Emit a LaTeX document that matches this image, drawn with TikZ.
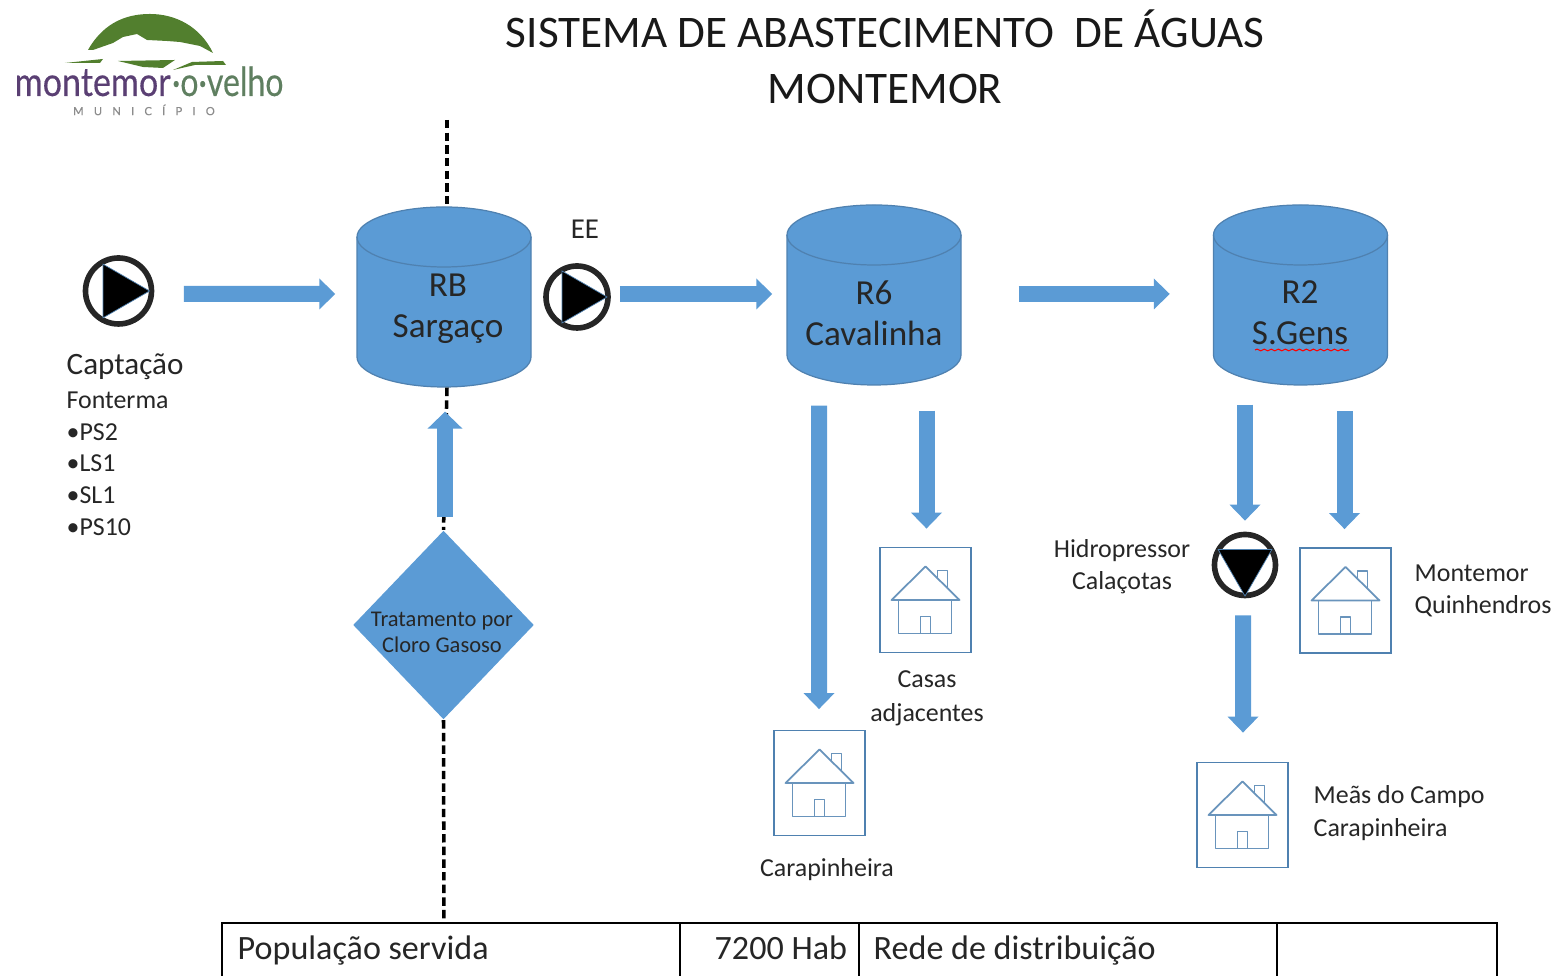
\documentclass[tikz,border=0pt]{standalone}
\usepackage{graphicx}
\usepackage{fontspec}
\setmainfont{Carlito}
\newfontfamily\logofont[FakeBold=0.4]{Lato}
\usepackage{tikz}
\usetikzlibrary{arrows.meta, shapes.geometric, decorations.pathmorphing}
\definecolor{flowblue}{HTML}{5B9BD5}
\definecolor{edgeblue}{HTML}{4F81B0}
\definecolor{logogreen}{HTML}{527F2E}
\definecolor{logopurple}{HTML}{5A3F73}
\definecolor{logogray}{HTML}{5F7F60}

\tikzset{
  tank/.style={rectangle, minimum width=1.74cm, minimum height=1.8cm, inner sep=0pt},
  tankline/.style={draw=edgeblue, line width=0.35pt},
  flow/.style={line width=0.16cm, draw=flowblue, -{Triangle[width=0.3cm, length=0.16cm]}},
  pipeline/.style={line width=1pt, dash pattern=on 2.4pt off 1.2pt},
  pumpring/.style={circle, draw=black!85, line width=1.6pt, fill=white, inner sep=0pt},
  pumptip/.style={regular polygon, regular polygon sides=3, fill=black, draw=edgeblue, line width=0.2pt, inner sep=0pt},
  housebox/.style={rectangle, draw=edgeblue, line width=0.5pt, minimum width=0.91cm, minimum height=1.05cm, inner sep=0pt},
  houseline/.style={draw=edgeblue!85, line width=0.5pt, line join=round},
  tanklabel/.style={font=\fontsize{10}{11.6}\selectfont, align=center, text=black!85},
  smalllabel/.style={font=\fontsize{7.38}{9.2}\selectfont, text=black!85},
  tablelabel/.style={font=\fontsize{9.7}{11}\selectfont, text=black!85, anchor=base west}
}

\newcommand{\houseicon}[1]{
  \begin{scope}[shift={(#1.center)}]
    \draw[houseline] (-0.34,0) -- (0,0.335) -- (0.34,0) -- cycle;
    \draw[houseline] (-0.27,0) rectangle (0.26,-0.335);
    \draw[houseline] (-0.05,-0.335) rectangle (0.05,-0.165);
    \draw[houseline] (0.12,0.215) -- (0.12,0.295) -- (0.22,0.295) -- (0.22,0.125);
  \end{scope}
}

\newcommand{\tankbody}[1]{
  \begin{scope}[shift={(#1.center)}]
    \draw[tankline, fill=flowblue] (-0.87,0.6) arc[start angle=180, end angle=0, x radius=0.87, y radius=0.3]
      -- (0.87,-0.6) arc[start angle=0, end angle=-180, x radius=0.87, y radius=0.3] -- cycle;
    \draw[tankline] (-0.87,0.6) arc[start angle=180, end angle=360, x radius=0.87, y radius=0.3];
  \end{scope}
}

\begin{document}
\begin{tikzpicture}
  \useasboundingbox (0,0) rectangle (15.52,9.76);

  % Logo
  \fill[logogreen] (0.88,9.26) .. controls (1.05,9.56) and (1.3,9.62) .. (1.5,9.62) .. controls (1.75,9.62) and (2.0,9.5) .. (2.13,9.23)
    -- (2.0,9.3) -- (1.8,9.34) -- (1.67,9.35) -- (1.47,9.36) -- (1.37,9.42) -- (1.23,9.39) -- (1.13,9.33) -- (0.93,9.26) -- cycle;
  \fill[logogreen] (0.65,9.13) -- (1.03,9.17) -- (1.0,9.13) -- cycle;
  \fill[logogreen] (1.18,9.15) -- (1.75,9.16) -- (1.63,9.08) -- (1.43,9.09) -- cycle;
  \fill[logogreen] (1.73,9.06) -- (1.92,9.14) -- (2.23,9.15) -- (2.26,9.11) -- (1.95,9.11) -- cycle;
  \node[text=logopurple, anchor=base west, inner sep=0pt, font=\logofont\fontsize{11.4}{12}\selectfont] (logoname) at (0.14,8.8)
    {\scalebox{0.85}[1]{montemor}};
  \node[text=logogray, anchor=base west, inner sep=0pt, font=\logofont\fontsize{11.4}{12}\selectfont] (logotown) at (logoname.base east)
    {\scalebox{0.8}[1]{·o·velho}};
  \node[text=black!45, font=\logofont\fontsize{3.2}{4}\selectfont] (logosub) at (1.44,8.66) {M\hspace{2.9pt}U\hspace{2.9pt}N\hspace{2.9pt}I\hspace{2.9pt}C\hspace{2.9pt}Í\hspace{2.9pt}P\hspace{2.9pt}I\hspace{2.9pt}O};

  % Title
  \node[font=\fontsize{12.86}{16}\selectfont, align=center, text=black!90] (title) at (8.85,9.19) {SISTEMA DE ABASTECIMENTO\ \ DE ÁGUAS\\MONTEMOR};

  % Tanks
  \node[tank] (rb) at (4.44,6.79) {};
  \node[tank] (rsix) at (8.74,6.81) {};
  \node[tank] (rtwo) at (13.005,6.81) {};
  \tankbody{rb}
  \tankbody{rsix}
  \tankbody{rtwo}
  \node[tanklabel] (rbtext) at (4.48,6.67) {RB\\Sargaço};
  \node[tanklabel] (rsixtext) at (8.74,6.63) {R6\\Cavalinha};
  \node[tanklabel] (rtwotext) at (13.0,6.63) {R2\\S.Gens};
  \draw[red, line width=0.3pt, decorate, decoration={snake, amplitude=0.25pt, segment length=2pt}] (12.55,6.26) -- (13.49,6.26);

  % Chlorine treatment
  \node[diamond, aspect=1, fill=flowblue, inner sep=0pt, minimum width=1.81cm, minimum height=1.89cm] (cloro) at (4.435,3.51) {};
  \node[font=\fontsize{6.4}{7.4}\selectfont, align=center, text=black!85] (clorotext) at (4.42,3.44) {Tratamento por\\Cloro Gasoso};

  % Table
  \coordinate (tabletop) at (4.44,0.53);
  \coordinate (intake) at (4.47,7.56);
  \draw[line width=0.6pt] (2.22,0) |- (14.97,0.53) -- (14.97,0);
  \draw[line width=0.6pt] (6.8,0) -- (6.8,0.53);
  \draw[line width=0.6pt] (8.59,0) -- (8.59,0.53);
  \draw[line width=0.6pt] (12.77,0) -- (12.77,0.53);
  \node[tablelabel, inner sep=0pt] (popserv) at (2.37,0.16) {População servida};
  \node[tablelabel, inner sep=0pt] (habit) at (7.14,0.16) {7200 Hab};
  \node[tablelabel, inner sep=0pt] (rede) at (8.73,0.16) {Rede de distribuição};

  % Dashed pipeline
  \draw[pipeline] (4.47,8.56) -- (rb.north -| intake);
  \draw[pipeline] (rb.south -| intake) -- (cloro.north);
  \draw[pipeline] (cloro.south) -- (tabletop);

  % Pumps
  \node[pumpring, minimum size=0.66cm] (captpump) at (1.185,6.85) {};
  \node[pumptip, minimum size=0.62cm, shape border rotate=-90] (capttip) at (1.185,6.85) {};
  \node[pumpring, minimum size=0.62cm] (eepump) at (5.77,6.79) {};
  \node[pumptip, minimum size=0.6cm, shape border rotate=-90] (eetip) at (5.77,6.79) {};
  \node[pumpring, minimum size=0.61cm] (hidro) at (12.45,4.11) {};
  \node[pumptip, minimum size=0.62cm, shape border rotate=180] (hidrotip) at (12.45,4.11) {};

  % Houses
  \node[housebox] (carap) at (8.195,1.93) {};
  \node[housebox] (casas) at (9.255,3.76) {};
  \node[housebox] (monte) at (13.455,3.755) {};
  \node[housebox] (meas) at (12.425,1.61) {};
  \houseicon{carap}
  \houseicon{casas}
  \houseicon{monte}
  \houseicon{meas}

  % Flow arrows
  \draw[flow] ([xshift=0.295cm, yshift=-0.03cm]captpump.east) -- ([xshift=-0.21cm, yshift=0.03cm]rb.west);
  \draw[flow] ([xshift=0.09cm, yshift=0.03cm]eepump.east) -- ([xshift=-0.14cm, yshift=0.01cm]rsix.west);
  \draw[flow] ([xshift=0.57cm, yshift=0.01cm]rsix.east) -- ([xshift=-0.43cm, yshift=0.01cm]rtwo.west);
  \draw[flow, -{Triangle[width=0.34cm, length=0.17cm]}] ([xshift=0.015cm, yshift=0.125cm]cloro.north) -- ([xshift=0.01cm, yshift=-0.24cm]rb.south);
  \draw[flow] ([xshift=-0.55cm, yshift=-0.2cm]rsix.south) -- ([xshift=-0.005cm, yshift=0.205cm]carap.north);
  \draw[flow] ([xshift=0.01cm, yshift=1.36cm]casas.north) -- ([xshift=0.01cm, yshift=0.18cm]casas.north);
  \draw[flow] ([yshift=1.27cm]hidro.north) -- ([yshift=0.11cm]hidro.north);
  \draw[flow] ([xshift=-0.01cm, yshift=1.36cm]monte.north) -- ([xshift=-0.01cm, yshift=0.18cm]monte.north);
  \draw[flow] ([xshift=-0.02cm, yshift=-0.17cm]hidro.south) -- ([xshift=0.005cm, yshift=0.29cm]meas.north);

  % Labels
  \node[font=\fontsize{8.2}{9}\selectfont, text=black!85] (eelabel) at (5.85,7.47) {EE};
  \node[font=\fontsize{8.85}{10}\selectfont, anchor=west, inner sep=0pt, text=black!85] (captlabel) at (0.66,6.09) {Captação};
  \node[smalllabel, font=\fontsize{7.36}{9.05}\selectfont, anchor=north west, align=left, inner sep=0pt] (captlist) at (0.66,5.85)
    {Fonterma\\•PS2\\•LS1\\•SL1\\•PS10};
  \node[smalllabel, align=center] (hidrolabel) at (11.22,4.09) {Hidropressor\\Calaçotas};
  \node[smalllabel, font=\fontsize{7.38}{9.6}\selectfont, align=center] (casaslabel) at (9.27,2.78) {Casas\\adjacentes};
  \node[smalllabel] (caraplabel) at (8.27,1.06) {Carapinheira};
  \node[smalllabel, anchor=west, align=left, inner sep=0pt] (montelabel) at (14.14,3.85) {Montemor\\Quinhendros};
  \node[smalllabel, anchor=west, align=left, inner sep=0pt] (measlabel) at (13.13,1.63) {Meãs do Campo\\Carapinheira};
\end{tikzpicture}
\end{document}
